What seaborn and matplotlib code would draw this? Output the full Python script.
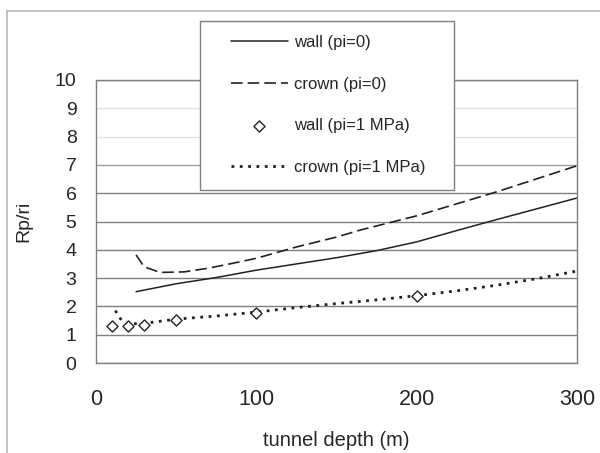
import matplotlib
matplotlib.use("Agg")
import matplotlib.pyplot as plt
import matplotlib.patches as mpatches
import seaborn as sns

# values
wall_pi0_depth = [25, 50, 75, 100, 125, 150, 175, 200, 225, 250, 275, 300]
wall_pi0 = [2.52, 2.8, 3.02, 3.28, 3.5, 3.72, 3.97, 4.28, 4.68, 5.07, 5.45, 5.83]

crown_pi0_depth = [25, 30, 40, 55, 70, 85, 100, 125, 150, 165, 200, 250, 300]
crown_pi0 = [3.82, 3.4, 3.2, 3.22, 3.35, 3.52, 3.7, 4.1, 4.45, 4.7, 5.2, 6.05, 6.97]

wall_pi1_depth = [10, 20, 30, 50, 100, 200]
wall_pi1 = [1.32, 1.32, 1.35, 1.52, 1.78, 2.38]

crown_pi1_depth = [12, 16, 20, 30, 50, 75, 100, 127, 150, 175, 200, 225, 250, 275, 300]
crown_pi1 = [1.85, 1.5, 1.38, 1.4, 1.55, 1.66, 1.8, 1.97, 2.1, 2.23, 2.38, 2.55, 2.75, 2.98, 3.25]

labels = ["wall (pi=0)", "crown (pi=0)", "wall (pi=1 MPa)", "crown (pi=1 MPa)"]
x_ticks = [0, 100, 200, 300]
y_ticks = list(range(0, 11))

sns.set_style("white")
plt.rcParams["font.family"] = ["Liberation Sans", "DejaVu Sans"]

fig = plt.figure(figsize=(6.0, 4.53), dpi=100)
ax = fig.add_axes([96 / 600, 1 - 363 / 453, 481 / 600, 283 / 453])

line_col = "#222222"
sns.lineplot(x=wall_pi0_depth, y=wall_pi0, ax=ax, color=line_col, lw=1.1,
             label=labels[0])
sns.lineplot(x=crown_pi0_depth, y=crown_pi0, ax=ax, color=line_col, lw=1.2,
             label=labels[1]).lines[-1].set_dashes([7, 3])
sns.scatterplot(x=wall_pi1_depth, y=wall_pi1, ax=ax, marker="D", s=32,
                facecolor="white", edgecolor=line_col, linewidth=1.0,
                label=labels[2], zorder=4)
sns.lineplot(x=crown_pi1_depth, y=crown_pi1, ax=ax, color=line_col, lw=2.0,
             label=labels[3]).lines[-1].set_dashes([1, 2])

ax.set_xlim(0, 300)
ax.set_ylim(0, 10)
ax.set_xticks(x_ticks)
ax.set_yticks(y_ticks)
ax.tick_params(axis="x", length=0, pad=19, labelsize=15.5)
ax.tick_params(axis="y", length=0, pad=14, labelsize=14)
ax.set_xlabel("tunnel depth (m)", fontsize=14.5, labelpad=15)
ax.set_ylabel("Rp/ri", fontsize=14, labelpad=16)

ax.yaxis.grid(True, color="#808080", lw=1.0)
grid_cols = ["#808080"] * 7 + ["#a0a0a0", "#e2e2e2", "#e2e2e2", "#808080"]
for gl, c in zip(ax.get_ygridlines(), grid_cols):
    gl.set_color(c)
for sp in ax.spines.values():
    sp.set_visible(True)
    sp.set_color("#808080")
    sp.set_linewidth(1.0)

# legend: boxed panel sitting partly above the plot area
handles, labs = ax.get_legend_handles_labels()
ax.get_legend().remove()
box = mpatches.Rectangle((200 / 600, 1 - 190 / 453), 254 / 600, 169 / 453,
                         transform=fig.transFigure, facecolor="white",
                         edgecolor="#808080", lw=1.0, zorder=2)
fig.add_artist(box)
fig.legend(handles, labs, loc="upper left",
           bbox_to_anchor=(231 / 600, 1 - 35 / 453),
           bbox_transform=fig.transFigure, frameon=False, fontsize=12,
           handlelength=3.4, handletextpad=0.36, labelspacing=1.6,
           borderpad=0, borderaxespad=0)

# outer chart frame
frame = mpatches.Rectangle((7 / 600, -0.1), 1.2, 1.1 - 11 / 453,
                           transform=fig.transFigure, fill=False,
                           edgecolor="#b8b8b8", lw=1.2, zorder=0)
fig.add_artist(frame)

fig.savefig("out.png", dpi=100)
